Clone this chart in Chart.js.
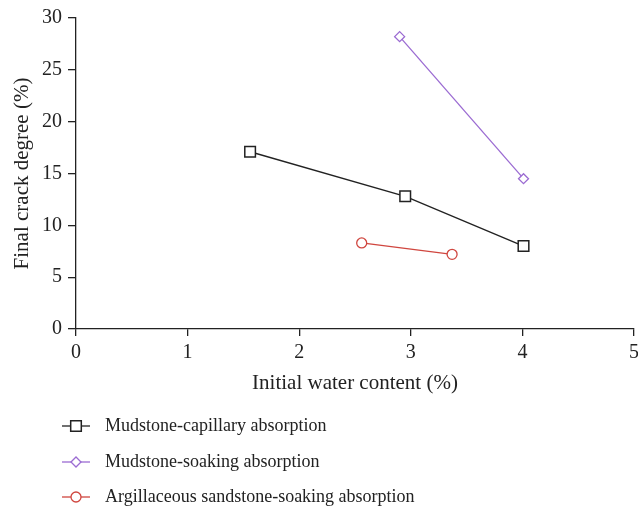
<!DOCTYPE html>
<html>
<head>
<meta charset="utf-8">
<script src="https://cdn.jsdelivr.net/npm/chart.js@4"></script>
<style>
  html, body { margin: 0; padding: 0; background: #fff; }
  #wrap { width: 638px; height: 511px; }
</style>
</head>
<body>
<div id="wrap"><canvas id="crack"></canvas></div>
<script>
// Initial water content (%) vs final crack degree (%)
const capillaryX = [1.56, 2.95, 4.01];
const capillaryY = [17.1, 12.8, 8.0];
const soakingX = [2.90, 4.01];
const soakingY = [28.2, 14.5];
const sandstoneX = [2.56, 3.37];
const sandstoneY = [8.3, 7.2];

const seriesNames = [
    'Mudstone-capillary absorption',
    'Mudstone-soaking absorption',
    'Argillaceous sandstone-soaking absorption'
];

const FONT = '"Liberation Serif", "DejaVu Serif", serif';
const INK = '#222222';
const PURPLE = '#9b6bd2';
const RED = '#d0463f';

function pairs(xs, ys) {
    return xs.map((x, i) => ({ x: x, y: ys[i] }));
}

// legend drawn one entry per row under the x axis
const stackedLegend = {
    id: 'stackedLegend',
    afterDraw(chart) {
        const ctx = chart.ctx;
        const rows = [426, 462, 497];
        ctx.save();
        chart.data.datasets.forEach((ds, i) => {
            const y = rows[i];
            ctx.strokeStyle = ds.borderColor;
            ctx.lineWidth = 1.3;
            ctx.beginPath();
            ctx.moveTo(62, y);
            ctx.lineTo(90, y);
            ctx.stroke();
            ctx.fillStyle = '#fff';
            ctx.lineWidth = ds.pointBorderWidth;
            Chart.helpers.drawPoint(ctx, {
                pointStyle: ds.pointStyle,
                radius: ds.pointRadius,
                rotation: 0,
                borderWidth: ds.pointBorderWidth
            }, 76, y);
            ctx.fillStyle = INK;
            ctx.font = '18px ' + FONT;
            ctx.textAlign = 'left';
            ctx.textBaseline = 'middle';
            ctx.fillText(ds.label, 105, y);
        });
        ctx.restore();
    }
};

const ctx = document.getElementById('crack').getContext('2d');
new Chart(ctx, {
    type: 'scatter',
    data: {
        datasets: [{
            label: seriesNames[0],
            data: pairs(capillaryX, capillaryY),
            showLine: true,
            borderColor: INK,
            borderWidth: 1.4,
            backgroundColor: '#fff',
            pointStyle: 'rect',
            pointRadius: 7.5,
            pointBorderWidth: 1.5
        }, {
            label: seriesNames[1],
            data: pairs(soakingX, soakingY),
            showLine: true,
            borderColor: PURPLE,
            borderWidth: 1.3,
            backgroundColor: '#fff',
            pointStyle: 'rectRot',
            pointRadius: 5,
            pointBorderWidth: 1.3
        }, {
            label: seriesNames[2],
            data: pairs(sandstoneX, sandstoneY),
            showLine: true,
            borderColor: RED,
            borderWidth: 1.3,
            backgroundColor: '#fff',
            pointStyle: 'circle',
            pointRadius: 5,
            pointBorderWidth: 1.3
        }]
    },
    options: {
        responsive: true,
        maintainAspectRatio: false,
        animation: false,
        layout: {
            autoPadding: false,
            padding: { top: 18, right: 0, bottom: 115, left: 0 }
        },
        plugins: {
            legend: { display: false },
            tooltip: { enabled: false }
        },
        scales: {
            x: {
                type: 'linear',
                min: 0,
                max: 5,
                ticks: { stepSize: 1, color: INK, font: { family: FONT, size: 20 }, padding: 5 },
                grid: { drawOnChartArea: false, tickLength: 7, color: INK, lineWidth: 1.3 },
                border: { color: INK, width: 1.3 },
                title: {
                    display: true,
                    text: 'Initial water content (%)',
                    color: INK,
                    font: { family: FONT, size: 21 },
                    padding: 0
                },
                afterFit(scale) {
                    scale.height = 67;
                    // let the last label run off the edge instead of shrinking the plot
                    scale.paddingRight = 4;
                    scale.paddingLeft = 0;
                }
            },
            y: {
                min: 0,
                max: 30,
                ticks: { stepSize: 5, color: INK, font: { family: FONT, size: 20 }, padding: 6 },
                grid: { drawOnChartArea: false, tickLength: 8, color: INK, lineWidth: 1.3 },
                border: { color: INK, width: 1.3 },
                title: {
                    display: true,
                    text: 'Final crack degree (%)',
                    color: INK,
                    font: { family: FONT, size: 21 },
                    padding: { top: 10, bottom: 0 }
                },
                afterFit(scale) { scale.width = 76; }
            }
        }
    },
    plugins: [stackedLegend]
});
</script>
</body>
</html>
